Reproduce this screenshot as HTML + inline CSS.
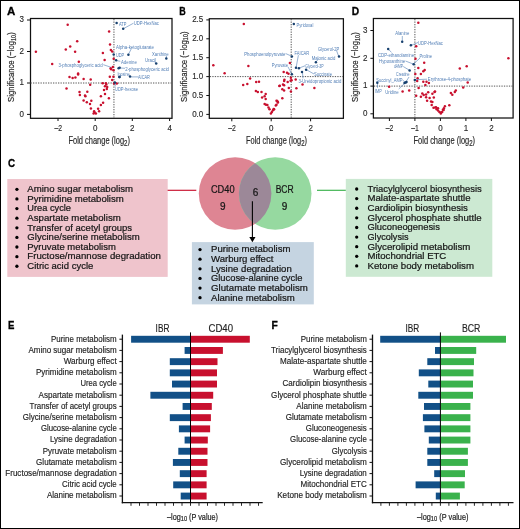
<!DOCTYPE html><html><head><meta charset="utf-8"><style>html,body{margin:0;padding:0;background:#fff;}svg{display:block;will-change:transform;}</style></head><body>
<svg width="520" height="529" viewBox="0 0 520 529" font-family="'Liberation Sans', sans-serif">
<rect x="0" y="0" width="520" height="529" fill="#fff"/>
<text x="7.10" y="15.20" font-size="11" font-weight="bold" fill="#000" textLength="8.30" lengthAdjust="spacingAndGlyphs" stroke="#000" stroke-width="0.3">A</text>
<text x="179.20" y="15.10" font-size="11" font-weight="bold" fill="#000" textLength="6.50" lengthAdjust="spacingAndGlyphs" stroke="#000" stroke-width="0.3">B</text>
<text x="351.80" y="15.10" font-size="11" font-weight="bold" fill="#000" textLength="7.40" lengthAdjust="spacingAndGlyphs" stroke="#000" stroke-width="0.3">D</text>
<text x="7.90" y="166.60" font-size="11" font-weight="bold" fill="#000" textLength="7.10" lengthAdjust="spacingAndGlyphs" stroke="#000" stroke-width="0.3">C</text>
<text x="7.90" y="328.80" font-size="11" font-weight="bold" fill="#000" textLength="6.40" lengthAdjust="spacingAndGlyphs" stroke="#000" stroke-width="0.3">E</text>
<text x="271.60" y="328.80" font-size="11" font-weight="bold" fill="#000" textLength="6.30" lengthAdjust="spacingAndGlyphs" stroke="#000" stroke-width="0.3">F</text>
<rect x="30.5" y="18.5" width="141.5" height="99.8" fill="none" stroke="#111" stroke-width="1.25"/>
<line x1="113.95" y1="19" x2="113.95" y2="117.5" stroke="#555" stroke-width="1" stroke-dasharray="1.3,1.2"/>
<line x1="30.5" y1="83" x2="171.5" y2="83" stroke="#555" stroke-width="1" stroke-dasharray="1.3,1.2"/>
<line x1="27" y1="20" x2="30" y2="20" stroke="#111" stroke-width="1"/>
<text x="19.55" y="22.30" font-size="8.8" fill="#2a2a2a" textLength="4.45" lengthAdjust="spacingAndGlyphs" stroke="#2a2a2a" stroke-width="0.15">3</text>
<line x1="27" y1="51.5" x2="30" y2="51.5" stroke="#111" stroke-width="1"/>
<text x="19.55" y="53.80" font-size="8.8" fill="#2a2a2a" textLength="4.45" lengthAdjust="spacingAndGlyphs" stroke="#2a2a2a" stroke-width="0.15">2</text>
<line x1="27" y1="83" x2="30" y2="83" stroke="#111" stroke-width="1"/>
<text x="19.55" y="85.30" font-size="8.8" fill="#2a2a2a" textLength="4.45" lengthAdjust="spacingAndGlyphs" stroke="#2a2a2a" stroke-width="0.15">1</text>
<line x1="27" y1="114.4" x2="30" y2="114.4" stroke="#111" stroke-width="1"/>
<text x="19.55" y="116.70" font-size="8.8" fill="#2a2a2a" textLength="4.45" lengthAdjust="spacingAndGlyphs" stroke="#2a2a2a" stroke-width="0.15">0</text>
<line x1="58" y1="118" x2="58" y2="121" stroke="#111" stroke-width="1"/>
<text x="54.40" y="130.50" font-size="8.8" fill="#2a2a2a" textLength="7.60" lengthAdjust="spacingAndGlyphs" stroke="#2a2a2a" stroke-width="0.15">–2</text>
<line x1="95.2" y1="118" x2="95.2" y2="121" stroke="#111" stroke-width="1"/>
<text x="92.98" y="130.50" font-size="8.8" fill="#2a2a2a" textLength="4.45" lengthAdjust="spacingAndGlyphs" stroke="#2a2a2a" stroke-width="0.15">0</text>
<line x1="132.3" y1="118" x2="132.3" y2="121" stroke="#111" stroke-width="1"/>
<text x="130.08" y="130.50" font-size="8.8" fill="#2a2a2a" textLength="4.45" lengthAdjust="spacingAndGlyphs" stroke="#2a2a2a" stroke-width="0.15">2</text>
<line x1="169.6" y1="118" x2="169.6" y2="121" stroke="#111" stroke-width="1"/>
<text x="167.38" y="130.50" font-size="8.8" fill="#2a2a2a" textLength="4.45" lengthAdjust="spacingAndGlyphs" stroke="#2a2a2a" stroke-width="0.15">4</text>
<g transform="translate(13.80,101.90) rotate(-90) scale(0.7787,1)"><text x="0" y="0" fill="#2a2a2a" stroke="#2a2a2a" stroke-width="0.2" xml:space="preserve"><tspan font-size="9.9" dy="0">Significance (−log</tspan><tspan font-size="7.0" dy="1.7">10</tspan><tspan font-size="9.9" dy="-1.7">)</tspan></text></g>
<g transform="translate(68.50,144.20) scale(0.7250,1)"><text x="0" y="0" fill="#2a2a2a" stroke="#2a2a2a" stroke-width="0.2" xml:space="preserve"><tspan font-size="10.3" dy="0">Fold change (log</tspan><tspan font-size="8.4" dy="1.8">2</tspan><tspan font-size="10.3" dy="-1.8">)</tspan></text></g>
<circle cx="67.7" cy="24.7" r="1.25" fill="#c8102e"/>
<circle cx="77.2" cy="41.3" r="1.25" fill="#c8102e"/>
<circle cx="70.2" cy="46.6" r="1.25" fill="#c8102e"/>
<circle cx="65.8" cy="49.6" r="1.25" fill="#c8102e"/>
<circle cx="75.1" cy="51.7" r="1.25" fill="#c8102e"/>
<circle cx="35.9" cy="51.7" r="1.25" fill="#c8102e"/>
<circle cx="78.8" cy="61.7" r="1.25" fill="#c8102e"/>
<circle cx="52.2" cy="63.9" r="1.25" fill="#c8102e"/>
<circle cx="69.5" cy="76.9" r="1.25" fill="#c8102e"/>
<circle cx="72.6" cy="78" r="1.25" fill="#c8102e"/>
<circle cx="75.4" cy="77.6" r="1.25" fill="#c8102e"/>
<circle cx="78.1" cy="73.4" r="1.25" fill="#c8102e"/>
<circle cx="78.1" cy="74.6" r="1.25" fill="#c8102e"/>
<circle cx="66.5" cy="88.4" r="1.25" fill="#c8102e"/>
<circle cx="79.5" cy="91.9" r="1.25" fill="#c8102e"/>
<circle cx="79.9" cy="95" r="1.25" fill="#c8102e"/>
<circle cx="83.6" cy="79.1" r="1.25" fill="#c8102e"/>
<circle cx="90.7" cy="79.5" r="1.25" fill="#c8102e"/>
<circle cx="90.2" cy="84.7" r="1.25" fill="#c8102e"/>
<circle cx="109.8" cy="76.8" r="1.25" fill="#c8102e"/>
<circle cx="113.4" cy="76.8" r="1.25" fill="#c8102e"/>
<circle cx="112.2" cy="80" r="1.25" fill="#c8102e"/>
<circle cx="102.7" cy="83.2" r="1.25" fill="#c8102e"/>
<circle cx="105.9" cy="83.2" r="1.25" fill="#c8102e"/>
<circle cx="106.3" cy="84.5" r="1.25" fill="#c8102e"/>
<circle cx="105" cy="86.3" r="1.25" fill="#c8102e"/>
<circle cx="107.2" cy="87.1" r="1.25" fill="#c8102e"/>
<circle cx="106.8" cy="89.1" r="1.25" fill="#c8102e"/>
<circle cx="104" cy="90.1" r="1.25" fill="#c8102e"/>
<circle cx="105" cy="94" r="1.25" fill="#c8102e"/>
<circle cx="108.9" cy="98.3" r="1.25" fill="#c8102e"/>
<circle cx="100.9" cy="96.3" r="1.25" fill="#c8102e"/>
<circle cx="103.1" cy="102.7" r="1.25" fill="#c8102e"/>
<circle cx="100.9" cy="104.9" r="1.25" fill="#c8102e"/>
<circle cx="98.1" cy="108.8" r="1.25" fill="#c8102e"/>
<circle cx="99.1" cy="111.3" r="1.25" fill="#c8102e"/>
<circle cx="94.1" cy="111.3" r="1.25" fill="#c8102e"/>
<circle cx="94.5" cy="112.6" r="1.25" fill="#c8102e"/>
<circle cx="95.9" cy="113.4" r="1.25" fill="#c8102e"/>
<circle cx="93.6" cy="113.4" r="1.25" fill="#c8102e"/>
<circle cx="90.9" cy="108.6" r="1.25" fill="#c8102e"/>
<circle cx="90" cy="104" r="1.25" fill="#c8102e"/>
<circle cx="91.3" cy="100.7" r="1.25" fill="#c8102e"/>
<circle cx="86.8" cy="102.2" r="1.25" fill="#c8102e"/>
<circle cx="83.6" cy="100.4" r="1.25" fill="#c8102e"/>
<circle cx="85.4" cy="96.3" r="1.25" fill="#c8102e"/>
<circle cx="85" cy="95.4" r="1.25" fill="#c8102e"/>
<circle cx="87.3" cy="91.8" r="1.25" fill="#c8102e"/>
<circle cx="114" cy="83.6" r="1.25" fill="#c8102e"/>
<circle cx="116.8" cy="83.4" r="1.25" fill="#c8102e"/>
<circle cx="109.1" cy="31.5" r="1.25" fill="#c8102e"/>
<circle cx="110" cy="44.4" r="1.25" fill="#c8102e"/>
<circle cx="110.9" cy="50" r="1.25" fill="#c8102e"/>
<circle cx="112.2" cy="51.5" r="1.25" fill="#c8102e"/>
<circle cx="102.9" cy="52.9" r="1.25" fill="#c8102e"/>
<circle cx="104.6" cy="60.1" r="1.25" fill="#c8102e"/>
<circle cx="113.7" cy="58.8" r="1.25" fill="#c8102e"/>
<circle cx="112.9" cy="67" r="1.25" fill="#c8102e"/>
<circle cx="110.7" cy="68.2" r="1.25" fill="#c8102e"/>
<circle cx="111.2" cy="69.2" r="1.25" fill="#c8102e"/>
<circle cx="113.5" cy="70.3" r="1.25" fill="#c8102e"/>
<path d="M123.2,28.8 L133.5,23.2" fill="none" stroke="#507db5" stroke-width="0.6"/>
<path d="M128.2,54.8 L131.2,49" fill="none" stroke="#507db5" stroke-width="0.6"/>
<path d="M103.3,64.7 L110.8,67.2" fill="none" stroke="#507db5" stroke-width="0.6"/>
<path d="M119,67.9 L125,68.3" fill="none" stroke="#507db5" stroke-width="0.6"/>
<path d="M130.3,76.9 L138,76.9" fill="none" stroke="#507db5" stroke-width="0.6"/>
<path d="M116,60.5 L120.3,61.3" fill="none" stroke="#507db5" stroke-width="0.6"/>
<path d="M115.4,82.8 L115.2,86.5" fill="none" stroke="#507db5" stroke-width="0.6"/>
<path d="M119.3,76.9 L121,74.8" fill="none" stroke="#507db5" stroke-width="0.6"/>
<path d="M166.2,58.4 L166.5,56" fill="none" stroke="#507db5" stroke-width="0.6"/>
<path d="M155.9,63.4 L154.6,61.6" fill="none" stroke="#507db5" stroke-width="0.6"/>
<text transform="translate(119.00,25.70) scale(0.25)" x="0" y="0" font-size="19.20" fill="#507db5" textLength="30.00" lengthAdjust="spacingAndGlyphs">ATP</text>
<text transform="translate(133.80,25.10) scale(0.25)" x="0" y="0" font-size="19.20" fill="#507db5" textLength="100.00" lengthAdjust="spacingAndGlyphs">UDP-HexNac</text>
<text transform="translate(116.00,48.80) scale(0.25)" x="0" y="0" font-size="19.20" fill="#507db5" textLength="152.00" lengthAdjust="spacingAndGlyphs">Alpha-ketoglutarate</text>
<text transform="translate(116.00,57.00) scale(0.25)" x="0" y="0" font-size="19.20" fill="#507db5" textLength="32.80" lengthAdjust="spacingAndGlyphs">UDP</text>
<text transform="translate(152.00,55.70) scale(0.25)" x="0" y="0" font-size="19.20" fill="#507db5" textLength="66.40" lengthAdjust="spacingAndGlyphs">Xanthine</text>
<text transform="translate(144.90,61.50) scale(0.25)" x="0" y="0" font-size="19.20" fill="#507db5" textLength="44.40" lengthAdjust="spacingAndGlyphs">Uracil</text>
<text transform="translate(121.00,63.70) scale(0.25)" x="0" y="0" font-size="19.20" fill="#507db5" textLength="63.20" lengthAdjust="spacingAndGlyphs">Adenine</text>
<text transform="translate(58.50,67.00) scale(0.25)" x="0" y="0" font-size="19.20" fill="#507db5" textLength="176.80" lengthAdjust="spacingAndGlyphs">3-phosphoglyceric acid</text>
<text transform="translate(125.30,70.60) scale(0.25)" x="0" y="0" font-size="19.20" fill="#507db5" textLength="174.80" lengthAdjust="spacingAndGlyphs">2-phosphoglyceric acid</text>
<text transform="translate(117.40,75.60) scale(0.25)" x="0" y="0" font-size="19.20" fill="#507db5" textLength="49.20" lengthAdjust="spacingAndGlyphs">Inosine</text>
<text transform="translate(138.00,79.00) scale(0.25)" x="0" y="0" font-size="19.20" fill="#507db5" textLength="47.60" lengthAdjust="spacingAndGlyphs">AICAR</text>
<text transform="translate(115.00,90.70) scale(0.25)" x="0" y="0" font-size="19.20" fill="#507db5" textLength="92.00" lengthAdjust="spacingAndGlyphs">UDP-hexose</text>
<circle cx="116.6" cy="23.1" r="1.25" fill="#17406e"/>
<circle cx="123.2" cy="28.8" r="1.25" fill="#17406e"/>
<circle cx="128.4" cy="54.7" r="1.25" fill="#17406e"/>
<circle cx="113.7" cy="54.4" r="1.25" fill="#17406e"/>
<circle cx="166.3" cy="58.6" r="1.25" fill="#17406e"/>
<circle cx="156.2" cy="63.5" r="1.25" fill="#17406e"/>
<circle cx="116.1" cy="60.3" r="1.25" fill="#17406e"/>
<circle cx="118.6" cy="68.2" r="1.25" fill="#17406e"/>
<circle cx="119.6" cy="67.7" r="1.25" fill="#17406e"/>
<circle cx="119.4" cy="77" r="1.25" fill="#17406e"/>
<circle cx="130" cy="76.6" r="1.25" fill="#17406e"/>
<circle cx="114.9" cy="82.5" r="1.25" fill="#17406e"/>
<circle cx="119.5" cy="77.1" r="1.25" fill="#17406e"/>
<rect x="209.3" y="18.75" width="134.09999999999997" height="99.55" fill="none" stroke="#111" stroke-width="1.25"/>
<line x1="291.2" y1="19" x2="291.2" y2="118" stroke="#555" stroke-width="1" stroke-dasharray="1.3,1.2"/>
<line x1="209.8" y1="76.6" x2="343" y2="76.6" stroke="#555" stroke-width="1" stroke-dasharray="1.3,1.2"/>
<line x1="206.3" y1="19.9" x2="209.3" y2="19.9" stroke="#111" stroke-width="1"/>
<text x="192.18" y="22.20" font-size="8.8" fill="#2a2a2a" textLength="11.12" lengthAdjust="spacingAndGlyphs" stroke="#2a2a2a" stroke-width="0.15">2.5</text>
<line x1="206.3" y1="38.8" x2="209.3" y2="38.8" stroke="#111" stroke-width="1"/>
<text x="192.18" y="41.10" font-size="8.8" fill="#2a2a2a" textLength="11.12" lengthAdjust="spacingAndGlyphs" stroke="#2a2a2a" stroke-width="0.15">2.0</text>
<line x1="206.3" y1="57.7" x2="209.3" y2="57.7" stroke="#111" stroke-width="1"/>
<text x="192.18" y="60.00" font-size="8.8" fill="#2a2a2a" textLength="11.12" lengthAdjust="spacingAndGlyphs" stroke="#2a2a2a" stroke-width="0.15">1.5</text>
<line x1="206.3" y1="76.6" x2="209.3" y2="76.6" stroke="#111" stroke-width="1"/>
<text x="192.18" y="78.90" font-size="8.8" fill="#2a2a2a" textLength="11.12" lengthAdjust="spacingAndGlyphs" stroke="#2a2a2a" stroke-width="0.15">1.0</text>
<line x1="206.3" y1="95.5" x2="209.3" y2="95.5" stroke="#111" stroke-width="1"/>
<text x="192.18" y="97.80" font-size="8.8" fill="#2a2a2a" textLength="11.12" lengthAdjust="spacingAndGlyphs" stroke="#2a2a2a" stroke-width="0.15">0.5</text>
<line x1="206.3" y1="114.4" x2="209.3" y2="114.4" stroke="#111" stroke-width="1"/>
<text x="192.18" y="116.70" font-size="8.8" fill="#2a2a2a" textLength="11.12" lengthAdjust="spacingAndGlyphs" stroke="#2a2a2a" stroke-width="0.15">0.0</text>
<line x1="231.8" y1="118.3" x2="231.8" y2="121.3" stroke="#111" stroke-width="1"/>
<text x="228.20" y="130.50" font-size="8.8" fill="#2a2a2a" textLength="7.60" lengthAdjust="spacingAndGlyphs" stroke="#2a2a2a" stroke-width="0.15">–2</text>
<line x1="271.2" y1="118.3" x2="271.2" y2="121.3" stroke="#111" stroke-width="1"/>
<text x="268.98" y="130.50" font-size="8.8" fill="#2a2a2a" textLength="4.45" lengthAdjust="spacingAndGlyphs" stroke="#2a2a2a" stroke-width="0.15">0</text>
<line x1="310.6" y1="118.3" x2="310.6" y2="121.3" stroke="#111" stroke-width="1"/>
<text x="308.38" y="130.50" font-size="8.8" fill="#2a2a2a" textLength="4.45" lengthAdjust="spacingAndGlyphs" stroke="#2a2a2a" stroke-width="0.15">2</text>
<g transform="translate(186.60,101.90) rotate(-90) scale(0.7876,1)"><text x="0" y="0" fill="#2a2a2a" stroke="#2a2a2a" stroke-width="0.2" xml:space="preserve"><tspan font-size="9.9" dy="0">Significance (−log</tspan><tspan font-size="7.0" dy="1.7">10</tspan><tspan font-size="9.9" dy="-1.7">)</tspan></text></g>
<g transform="translate(246.00,144.20) scale(0.7191,1)"><text x="0" y="0" fill="#2a2a2a" stroke="#2a2a2a" stroke-width="0.2" xml:space="preserve"><tspan font-size="10.3" dy="0">Fold change (log</tspan><tspan font-size="8.4" dy="1.8">2</tspan><tspan font-size="10.3" dy="-1.8">)</tspan></text></g>
<circle cx="243.8" cy="24.1" r="1.25" fill="#c8102e"/>
<circle cx="213.3" cy="65.2" r="1.25" fill="#c8102e"/>
<circle cx="248.4" cy="65.9" r="1.25" fill="#c8102e"/>
<circle cx="224.6" cy="73.3" r="1.25" fill="#c8102e"/>
<circle cx="250.1" cy="78.5" r="1.25" fill="#c8102e"/>
<circle cx="243.2" cy="84.9" r="1.25" fill="#c8102e"/>
<circle cx="247.3" cy="83.9" r="1.25" fill="#c8102e"/>
<circle cx="256.2" cy="82" r="1.25" fill="#c8102e"/>
<circle cx="259" cy="81.8" r="1.25" fill="#c8102e"/>
<circle cx="255.9" cy="90.9" r="1.25" fill="#c8102e"/>
<circle cx="257.8" cy="91.9" r="1.25" fill="#c8102e"/>
<circle cx="261.5" cy="92" r="1.25" fill="#c8102e"/>
<circle cx="265.7" cy="94" r="1.25" fill="#c8102e"/>
<circle cx="264.6" cy="96.2" r="1.25" fill="#c8102e"/>
<circle cx="262.1" cy="97.6" r="1.25" fill="#c8102e"/>
<circle cx="265.7" cy="99" r="1.25" fill="#c8102e"/>
<circle cx="264.6" cy="104" r="1.25" fill="#c8102e"/>
<circle cx="266" cy="104.7" r="1.25" fill="#c8102e"/>
<circle cx="267.4" cy="105" r="1.25" fill="#c8102e"/>
<circle cx="268.5" cy="107.5" r="1.25" fill="#c8102e"/>
<circle cx="269.5" cy="109.2" r="1.25" fill="#c8102e"/>
<circle cx="270.9" cy="113.4" r="1.25" fill="#c8102e"/>
<circle cx="271.9" cy="112" r="1.25" fill="#c8102e"/>
<circle cx="273" cy="110.3" r="1.25" fill="#c8102e"/>
<circle cx="274.1" cy="109.2" r="1.25" fill="#c8102e"/>
<circle cx="276.5" cy="100.7" r="1.25" fill="#c8102e"/>
<circle cx="277.9" cy="102.1" r="1.25" fill="#c8102e"/>
<circle cx="275.8" cy="105.6" r="1.25" fill="#c8102e"/>
<circle cx="279.3" cy="86" r="1.25" fill="#c8102e"/>
<circle cx="289.9" cy="62.9" r="1.25" fill="#c8102e"/>
<circle cx="283.7" cy="72" r="1.25" fill="#c8102e"/>
<circle cx="287" cy="72.7" r="1.25" fill="#c8102e"/>
<circle cx="288.5" cy="73.8" r="1.25" fill="#c8102e"/>
<circle cx="290.9" cy="77.8" r="1.25" fill="#c8102e"/>
<circle cx="291.6" cy="80.3" r="1.25" fill="#c8102e"/>
<circle cx="290.6" cy="80.7" r="1.25" fill="#c8102e"/>
<circle cx="295.7" cy="79.5" r="1.25" fill="#c8102e"/>
<circle cx="284.4" cy="79.8" r="1.25" fill="#c8102e"/>
<circle cx="284.1" cy="81" r="1.25" fill="#c8102e"/>
<circle cx="287.7" cy="82.1" r="1.25" fill="#c8102e"/>
<circle cx="279.8" cy="85.7" r="1.25" fill="#c8102e"/>
<circle cx="283" cy="84.6" r="1.25" fill="#c8102e"/>
<circle cx="284.1" cy="85.3" r="1.25" fill="#c8102e"/>
<circle cx="282.3" cy="89.3" r="1.25" fill="#c8102e"/>
<circle cx="284.1" cy="90.4" r="1.25" fill="#c8102e"/>
<circle cx="288.8" cy="87.9" r="1.25" fill="#c8102e"/>
<circle cx="290.9" cy="91.4" r="1.25" fill="#c8102e"/>
<circle cx="296.4" cy="88.2" r="1.25" fill="#c8102e"/>
<circle cx="302.5" cy="84.6" r="1.25" fill="#c8102e"/>
<circle cx="314.4" cy="87.9" r="1.25" fill="#c8102e"/>
<circle cx="282.3" cy="98.3" r="1.25" fill="#c8102e"/>
<circle cx="277.2" cy="100.9" r="1.25" fill="#c8102e"/>
<circle cx="277.9" cy="102.6" r="1.25" fill="#c8102e"/>
<circle cx="276.5" cy="104.8" r="1.25" fill="#c8102e"/>
<circle cx="273.6" cy="109.1" r="1.25" fill="#c8102e"/>
<path d="M285.6,53.5 L291.2,56" fill="none" stroke="#507db5" stroke-width="0.6"/>
<path d="M298.4,55.2 L296.1,67.5" fill="none" stroke="#507db5" stroke-width="0.6"/>
<path d="M336.5,50.5 L338.6,56.1" fill="none" stroke="#507db5" stroke-width="0.6"/>
<path d="M315.6,62 L318.5,59.3" fill="none" stroke="#507db5" stroke-width="0.6"/>
<path d="M298.8,68.2 L305,65.8" fill="none" stroke="#507db5" stroke-width="0.6"/>
<path d="M306.2,69.6 L314,74" fill="none" stroke="#507db5" stroke-width="0.6"/>
<path d="M302.4,71.9 L303,78.3" fill="none" stroke="#507db5" stroke-width="0.6"/>
<path d="M288,66.8 L291.7,74" fill="none" stroke="#507db5" stroke-width="0.6"/>
<text transform="translate(296.50,26.60) scale(0.25)" x="0" y="0" font-size="19.20" fill="#507db5" textLength="67.20" lengthAdjust="spacingAndGlyphs">Pyridoxal</text>
<text transform="translate(244.20,55.50) scale(0.25)" x="0" y="0" font-size="19.20" fill="#507db5" textLength="165.20" lengthAdjust="spacingAndGlyphs">Phosphoenolpyruvate</text>
<text transform="translate(294.60,55.10) scale(0.25)" x="0" y="0" font-size="19.20" fill="#507db5" textLength="58.40" lengthAdjust="spacingAndGlyphs">FAICAR</text>
<text transform="translate(317.90,50.90) scale(0.25)" x="0" y="0" font-size="19.20" fill="#507db5" textLength="85.20" lengthAdjust="spacingAndGlyphs">Glycerol-2P</text>
<text transform="translate(311.70,59.70) scale(0.25)" x="0" y="0" font-size="19.20" fill="#507db5" textLength="94.80" lengthAdjust="spacingAndGlyphs">Malonic acid</text>
<text transform="translate(305.30,67.90) scale(0.25)" x="0" y="0" font-size="19.20" fill="#507db5" textLength="73.20" lengthAdjust="spacingAndGlyphs">Glycerol-3P</text>
<text transform="translate(313.90,76.30) scale(0.25)" x="0" y="0" font-size="19.20" fill="#507db5" textLength="72.40" lengthAdjust="spacingAndGlyphs">Succinate</text>
<text transform="translate(298.40,83.40) scale(0.25)" x="0" y="0" font-size="19.20" fill="#507db5" textLength="171.60" lengthAdjust="spacingAndGlyphs">3-Ureidopropionic acid</text>
<text transform="translate(271.70,67.10) scale(0.25)" x="0" y="0" font-size="19.20" fill="#507db5" textLength="65.20" lengthAdjust="spacingAndGlyphs">Pyruvate</text>
<circle cx="293.8" cy="24.1" r="1.25" fill="#17406e"/>
<circle cx="291.9" cy="56.6" r="1.25" fill="#17406e"/>
<circle cx="296" cy="67.7" r="1.25" fill="#17406e"/>
<circle cx="298.9" cy="68.3" r="1.25" fill="#17406e"/>
<circle cx="339" cy="56.4" r="1.25" fill="#17406e"/>
<circle cx="315.9" cy="62.2" r="1.25" fill="#17406e"/>
<circle cx="306.1" cy="69.7" r="1.25" fill="#17406e"/>
<circle cx="302" cy="72" r="1.25" fill="#17406e"/>
<circle cx="291.9" cy="74.2" r="1.25" fill="#17406e"/>
<rect x="373.4" y="18.5" width="139.70000000000005" height="99.5" fill="none" stroke="#111" stroke-width="1.25"/>
<line x1="414.9" y1="19" x2="414.9" y2="117.5" stroke="#555" stroke-width="1" stroke-dasharray="1.3,1.2"/>
<line x1="373.9" y1="86.1" x2="512.6" y2="86.1" stroke="#555" stroke-width="1" stroke-dasharray="1.3,1.2"/>
<line x1="370.4" y1="30.5" x2="373.4" y2="30.5" stroke="#111" stroke-width="1"/>
<text x="362.95" y="32.80" font-size="8.8" fill="#2a2a2a" textLength="4.45" lengthAdjust="spacingAndGlyphs" stroke="#2a2a2a" stroke-width="0.15">3</text>
<line x1="370.4" y1="58.3" x2="373.4" y2="58.3" stroke="#111" stroke-width="1"/>
<text x="362.95" y="60.60" font-size="8.8" fill="#2a2a2a" textLength="4.45" lengthAdjust="spacingAndGlyphs" stroke="#2a2a2a" stroke-width="0.15">2</text>
<line x1="370.4" y1="86.1" x2="373.4" y2="86.1" stroke="#111" stroke-width="1"/>
<text x="362.95" y="88.40" font-size="8.8" fill="#2a2a2a" textLength="4.45" lengthAdjust="spacingAndGlyphs" stroke="#2a2a2a" stroke-width="0.15">1</text>
<line x1="370.4" y1="113.8" x2="373.4" y2="113.8" stroke="#111" stroke-width="1"/>
<text x="362.95" y="116.10" font-size="8.8" fill="#2a2a2a" textLength="4.45" lengthAdjust="spacingAndGlyphs" stroke="#2a2a2a" stroke-width="0.15">0</text>
<line x1="389.4" y1="118" x2="389.4" y2="121" stroke="#111" stroke-width="1"/>
<text x="385.80" y="130.50" font-size="8.8" fill="#2a2a2a" textLength="7.60" lengthAdjust="spacingAndGlyphs" stroke="#2a2a2a" stroke-width="0.15">–2</text>
<line x1="414.9" y1="118" x2="414.9" y2="121" stroke="#111" stroke-width="1"/>
<text x="411.30" y="130.50" font-size="8.8" fill="#2a2a2a" textLength="7.60" lengthAdjust="spacingAndGlyphs" stroke="#2a2a2a" stroke-width="0.15">–1</text>
<line x1="440.4" y1="118" x2="440.4" y2="121" stroke="#111" stroke-width="1"/>
<text x="438.18" y="130.50" font-size="8.8" fill="#2a2a2a" textLength="4.45" lengthAdjust="spacingAndGlyphs" stroke="#2a2a2a" stroke-width="0.15">0</text>
<line x1="465.9" y1="118" x2="465.9" y2="121" stroke="#111" stroke-width="1"/>
<text x="463.68" y="130.50" font-size="8.8" fill="#2a2a2a" textLength="4.45" lengthAdjust="spacingAndGlyphs" stroke="#2a2a2a" stroke-width="0.15">1</text>
<line x1="491.4" y1="118" x2="491.4" y2="121" stroke="#111" stroke-width="1"/>
<text x="489.18" y="130.50" font-size="8.8" fill="#2a2a2a" textLength="4.45" lengthAdjust="spacingAndGlyphs" stroke="#2a2a2a" stroke-width="0.15">2</text>
<g transform="translate(358.00,101.90) rotate(-90) scale(0.7787,1)"><text x="0" y="0" fill="#2a2a2a" stroke="#2a2a2a" stroke-width="0.2" xml:space="preserve"><tspan font-size="9.9" dy="0">Significance (−log</tspan><tspan font-size="7.0" dy="1.7">10</tspan><tspan font-size="9.9" dy="-1.7">)</tspan></text></g>
<g transform="translate(413.50,144.20) scale(0.7261,1)"><text x="0" y="0" fill="#2a2a2a" stroke="#2a2a2a" stroke-width="0.2" xml:space="preserve"><tspan font-size="10.3" dy="0">Fold change (log</tspan><tspan font-size="8.4" dy="1.8">2</tspan><tspan font-size="10.3" dy="-1.8">)</tspan></text></g>
<circle cx="418.3" cy="22.7" r="1.25" fill="#c8102e"/>
<circle cx="416.2" cy="46.2" r="1.25" fill="#c8102e"/>
<circle cx="415.5" cy="58.8" r="1.25" fill="#c8102e"/>
<circle cx="424.2" cy="62.8" r="1.25" fill="#c8102e"/>
<circle cx="418.3" cy="68.1" r="1.25" fill="#c8102e"/>
<circle cx="389.1" cy="86.7" r="1.25" fill="#c8102e"/>
<circle cx="402.6" cy="91.6" r="1.25" fill="#c8102e"/>
<circle cx="409.2" cy="90.6" r="1.25" fill="#c8102e"/>
<circle cx="424.7" cy="70.1" r="1.25" fill="#c8102e"/>
<circle cx="423.3" cy="71.2" r="1.25" fill="#c8102e"/>
<circle cx="415.3" cy="74" r="1.25" fill="#c8102e"/>
<circle cx="420.9" cy="74" r="1.25" fill="#c8102e"/>
<circle cx="417.6" cy="78.3" r="1.25" fill="#c8102e"/>
<circle cx="417.2" cy="81.1" r="1.25" fill="#c8102e"/>
<circle cx="423.3" cy="81.8" r="1.25" fill="#c8102e"/>
<circle cx="426.5" cy="81.8" r="1.25" fill="#c8102e"/>
<circle cx="428.9" cy="82.9" r="1.25" fill="#c8102e"/>
<circle cx="425.4" cy="85" r="1.25" fill="#c8102e"/>
<circle cx="418.6" cy="88.1" r="1.25" fill="#c8102e"/>
<circle cx="416.2" cy="95.8" r="1.25" fill="#c8102e"/>
<circle cx="420.9" cy="96.8" r="1.25" fill="#c8102e"/>
<circle cx="422.3" cy="93.4" r="1.25" fill="#c8102e"/>
<circle cx="423.7" cy="95.1" r="1.25" fill="#c8102e"/>
<circle cx="426.1" cy="94.4" r="1.25" fill="#c8102e"/>
<circle cx="428.2" cy="92.3" r="1.25" fill="#c8102e"/>
<circle cx="426.1" cy="97.2" r="1.25" fill="#c8102e"/>
<circle cx="427.1" cy="100.7" r="1.25" fill="#c8102e"/>
<circle cx="429.6" cy="97.9" r="1.25" fill="#c8102e"/>
<circle cx="432.4" cy="93.7" r="1.25" fill="#c8102e"/>
<circle cx="434.5" cy="92" r="1.25" fill="#c8102e"/>
<circle cx="431" cy="101.4" r="1.25" fill="#c8102e"/>
<circle cx="432.4" cy="102.1" r="1.25" fill="#c8102e"/>
<circle cx="433.8" cy="97.6" r="1.25" fill="#c8102e"/>
<circle cx="431.7" cy="104.9" r="1.25" fill="#c8102e"/>
<circle cx="433.5" cy="107.8" r="1.25" fill="#c8102e"/>
<circle cx="435.2" cy="107.5" r="1.25" fill="#c8102e"/>
<circle cx="436.6" cy="109.2" r="1.25" fill="#c8102e"/>
<circle cx="438" cy="110.6" r="1.25" fill="#c8102e"/>
<circle cx="439.4" cy="112" r="1.25" fill="#c8102e"/>
<circle cx="440.8" cy="113.4" r="1.25" fill="#c8102e"/>
<circle cx="442.2" cy="112" r="1.25" fill="#c8102e"/>
<circle cx="443.6" cy="109.9" r="1.25" fill="#c8102e"/>
<circle cx="508.4" cy="58.3" r="1.25" fill="#c8102e"/>
<circle cx="459.8" cy="68.6" r="1.25" fill="#c8102e"/>
<circle cx="466.7" cy="66.2" r="1.25" fill="#c8102e"/>
<circle cx="467.7" cy="82.5" r="1.25" fill="#c8102e"/>
<circle cx="463.2" cy="87.4" r="1.25" fill="#c8102e"/>
<circle cx="455.8" cy="90.4" r="1.25" fill="#c8102e"/>
<circle cx="454.8" cy="92" r="1.25" fill="#c8102e"/>
<circle cx="450.9" cy="93" r="1.25" fill="#c8102e"/>
<circle cx="452.3" cy="94.8" r="1.25" fill="#c8102e"/>
<circle cx="449.3" cy="105.3" r="1.25" fill="#c8102e"/>
<circle cx="444.9" cy="106.3" r="1.25" fill="#c8102e"/>
<circle cx="443.9" cy="108.3" r="1.25" fill="#c8102e"/>
<circle cx="442.9" cy="109.8" r="1.25" fill="#c8102e"/>
<circle cx="441" cy="112.6" r="1.25" fill="#c8102e"/>
<circle cx="438" cy="108.3" r="1.25" fill="#c8102e"/>
<circle cx="436" cy="107.3" r="1.25" fill="#c8102e"/>
<circle cx="435" cy="91.4" r="1.25" fill="#c8102e"/>
<path d="M402.3,36 L402.3,41.9" fill="none" stroke="#507db5" stroke-width="0.6"/>
<path d="M410.6,45.5 L418,42.5" fill="none" stroke="#507db5" stroke-width="0.6"/>
<path d="M388.1,49.1 L391.5,52.3" fill="none" stroke="#507db5" stroke-width="0.6"/>
<path d="M413.4,64.1 L420,58" fill="none" stroke="#507db5" stroke-width="0.6"/>
<path d="M405.5,61 L413.4,64.1" fill="none" stroke="#507db5" stroke-width="0.6"/>
<path d="M403.2,66.5 L410.2,70.7" fill="none" stroke="#507db5" stroke-width="0.6"/>
<path d="M409,77 L405.7,82.2" fill="none" stroke="#507db5" stroke-width="0.6"/>
<path d="M402.5,80 L405,82" fill="none" stroke="#507db5" stroke-width="0.6"/>
<path d="M414.8,79.7 L427,79.2" fill="none" stroke="#507db5" stroke-width="0.6"/>
<path d="M377.5,82.8 L377.5,87.8" fill="none" stroke="#507db5" stroke-width="0.6"/>
<path d="M398.7,89 L405,83" fill="none" stroke="#507db5" stroke-width="0.6"/>
<text transform="translate(395.30,35.00) scale(0.25)" x="0" y="0" font-size="19.20" fill="#507db5" textLength="56.00" lengthAdjust="spacingAndGlyphs">Alanine</text>
<text transform="translate(418.10,44.50) scale(0.25)" x="0" y="0" font-size="19.20" fill="#507db5" textLength="99.20" lengthAdjust="spacingAndGlyphs">UDP-HexNac</text>
<text transform="translate(378.00,56.80) scale(0.25)" x="0" y="0" font-size="19.20" fill="#507db5" textLength="144.40" lengthAdjust="spacingAndGlyphs">CDP-ethanolamine</text>
<text transform="translate(419.50,57.90) scale(0.25)" x="0" y="0" font-size="19.20" fill="#507db5" textLength="50.40" lengthAdjust="spacingAndGlyphs">Proline</text>
<text transform="translate(379.10,63.00) scale(0.25)" x="0" y="0" font-size="19.20" fill="#507db5" textLength="104.40" lengthAdjust="spacingAndGlyphs">Hypoxanthine</text>
<text transform="translate(394.00,67.90) scale(0.25)" x="0" y="0" font-size="19.20" fill="#507db5" textLength="36.00" lengthAdjust="spacingAndGlyphs">dAMP</text>
<text transform="translate(396.10,76.20) scale(0.25)" x="0" y="0" font-size="19.20" fill="#507db5" textLength="54.00" lengthAdjust="spacingAndGlyphs">Creatine</text>
<text transform="translate(376.30,82.00) scale(0.25)" x="0" y="0" font-size="19.20" fill="#507db5" textLength="104.80" lengthAdjust="spacingAndGlyphs">Succinyl_AMP</text>
<text transform="translate(427.80,80.60) scale(0.25)" x="0" y="0" font-size="19.20" fill="#507db5" textLength="173.20" lengthAdjust="spacingAndGlyphs">Erythrose-4-phosphate</text>
<text transform="translate(375.00,92.80) scale(0.25)" x="0" y="0" font-size="19.20" fill="#507db5" textLength="26.80" lengthAdjust="spacingAndGlyphs">IMP</text>
<text transform="translate(385.20,93.50) scale(0.25)" x="0" y="0" font-size="19.20" fill="#507db5" textLength="53.60" lengthAdjust="spacingAndGlyphs">Uridine</text>
<circle cx="402.2" cy="41.7" r="1.25" fill="#17406e"/>
<circle cx="410.9" cy="45.2" r="1.25" fill="#17406e"/>
<circle cx="388.2" cy="49" r="1.25" fill="#17406e"/>
<circle cx="413.7" cy="64.2" r="1.25" fill="#17406e"/>
<circle cx="409.6" cy="70.5" r="1.25" fill="#17406e"/>
<circle cx="405.7" cy="82.5" r="1.25" fill="#17406e"/>
<circle cx="404.5" cy="83" r="1.25" fill="#17406e"/>
<circle cx="406.5" cy="82" r="1.25" fill="#17406e"/>
<circle cx="414.8" cy="80.1" r="1.25" fill="#17406e"/>
<circle cx="377.3" cy="82.8" r="1.25" fill="#17406e"/>
<rect x="7.3" y="179" width="160.4" height="97.9" fill="#efc4cc"/>
<rect x="345.8" y="178.9" width="146.5" height="97.9" fill="#cce9d2"/>
<rect x="191.9" y="242.1" width="121.9" height="62.3" fill="#c5d4e1"/>
<line x1="167.6" y1="190.3" x2="196.3" y2="190.3" stroke="#c8102e" stroke-width="1.15"/>
<line x1="317" y1="190.3" x2="345.8" y2="190.3" stroke="#3ab24c" stroke-width="1.15"/>
<defs><clipPath id="cl"><circle cx="235.1" cy="193.5" r="36.3"/></clipPath></defs>
<circle cx="235.1" cy="193.5" r="36.3" fill="#de8593"/>
<circle cx="275.2" cy="193.5" r="36.3" fill="#96d9a0"/>
<circle cx="275.2" cy="193.5" r="36.3" fill="#9c8898" clip-path="url(#cl)"/>
<text x="210.90" y="192.50" font-size="10" fill="#161616" textLength="23.70" lengthAdjust="spacingAndGlyphs" stroke="#161616" stroke-width="0.22">CD40</text>
<text x="275.70" y="192.60" font-size="10" fill="#161616" textLength="18.00" lengthAdjust="spacingAndGlyphs" stroke="#161616" stroke-width="0.22">BCR</text>
<text x="220.12" y="209.90" font-size="10" fill="#161616" textLength="5.56" lengthAdjust="spacingAndGlyphs" stroke="#161616" stroke-width="0.22">9</text>
<text x="281.72" y="209.90" font-size="10" fill="#161616" textLength="5.56" lengthAdjust="spacingAndGlyphs" stroke="#161616" stroke-width="0.22">9</text>
<text x="252.72" y="195.90" font-size="10" fill="#161616" textLength="5.56" lengthAdjust="spacingAndGlyphs" stroke="#161616" stroke-width="0.22">6</text>
<line x1="252.4" y1="201.2" x2="252.4" y2="238" stroke="#000" stroke-width="1.1"/>
<path d="M249.3,237 L255.5,237 L252.4,242.3 Z" fill="#000"/>
<circle cx="16.9" cy="189.30" r="1.65" fill="#000"/>
<text x="27.30" y="192.10" font-size="9.8" fill="#161616" textLength="105.80" lengthAdjust="spacingAndGlyphs" stroke="#161616" stroke-width="0.22">Amino sugar metabolism</text>
<circle cx="16.9" cy="198.92" r="1.65" fill="#000"/>
<text x="27.30" y="201.72" font-size="9.8" fill="#161616" textLength="96.50" lengthAdjust="spacingAndGlyphs" stroke="#161616" stroke-width="0.22">Pyrimidine metabolism</text>
<circle cx="16.9" cy="208.54" r="1.65" fill="#000"/>
<text x="27.30" y="211.34" font-size="9.8" fill="#161616" textLength="43.70" lengthAdjust="spacingAndGlyphs" stroke="#161616" stroke-width="0.22">Urea cycle</text>
<circle cx="16.9" cy="218.16" r="1.65" fill="#000"/>
<text x="27.30" y="220.96" font-size="9.8" fill="#161616" textLength="93.50" lengthAdjust="spacingAndGlyphs" stroke="#161616" stroke-width="0.22">Aspartate metabolism</text>
<circle cx="16.9" cy="227.78" r="1.65" fill="#000"/>
<text x="27.30" y="230.58" font-size="9.8" fill="#161616" textLength="104.80" lengthAdjust="spacingAndGlyphs" stroke="#161616" stroke-width="0.22">Transfer of acetyl groups</text>
<circle cx="16.9" cy="237.40" r="1.65" fill="#000"/>
<text x="27.30" y="240.20" font-size="9.8" fill="#161616" textLength="112.40" lengthAdjust="spacingAndGlyphs" stroke="#161616" stroke-width="0.22">Glycine/serine metabolism</text>
<circle cx="16.9" cy="247.02" r="1.65" fill="#000"/>
<text x="27.30" y="249.82" font-size="9.8" fill="#161616" textLength="88.50" lengthAdjust="spacingAndGlyphs" stroke="#161616" stroke-width="0.22">Pyruvate metabolism</text>
<circle cx="16.9" cy="256.64" r="1.65" fill="#000"/>
<text x="27.30" y="259.44" font-size="9.8" fill="#161616" textLength="133.60" lengthAdjust="spacingAndGlyphs" stroke="#161616" stroke-width="0.22">Fructose/mannose degradation</text>
<circle cx="16.9" cy="266.26" r="1.65" fill="#000"/>
<text x="27.30" y="269.06" font-size="9.8" fill="#161616" textLength="66.00" lengthAdjust="spacingAndGlyphs" stroke="#161616" stroke-width="0.22">Citric acid cycle</text>
<circle cx="356.7" cy="189.00" r="1.65" fill="#000"/>
<text x="367.50" y="191.80" font-size="9.8" fill="#161616" textLength="114.20" lengthAdjust="spacingAndGlyphs" stroke="#161616" stroke-width="0.22">Triacylglycerol biosynthesis</text>
<circle cx="356.7" cy="198.62" r="1.65" fill="#000"/>
<text x="367.50" y="201.42" font-size="9.8" fill="#161616" textLength="103.10" lengthAdjust="spacingAndGlyphs" stroke="#161616" stroke-width="0.22">Malate-aspartate shuttle</text>
<circle cx="356.7" cy="208.24" r="1.65" fill="#000"/>
<text x="367.50" y="211.04" font-size="9.8" fill="#161616" textLength="100.40" lengthAdjust="spacingAndGlyphs" stroke="#161616" stroke-width="0.22">Cardiolipin biosynthesis</text>
<circle cx="356.7" cy="217.86" r="1.65" fill="#000"/>
<text x="367.50" y="220.66" font-size="9.8" fill="#161616" textLength="114.20" lengthAdjust="spacingAndGlyphs" stroke="#161616" stroke-width="0.22">Glycerol phosphate shuttle</text>
<circle cx="356.7" cy="227.48" r="1.65" fill="#000"/>
<text x="367.50" y="230.28" font-size="9.8" fill="#161616" textLength="72.40" lengthAdjust="spacingAndGlyphs" stroke="#161616" stroke-width="0.22">Gluconeogenesis</text>
<circle cx="356.7" cy="237.10" r="1.65" fill="#000"/>
<text x="367.50" y="239.90" font-size="9.8" fill="#161616" textLength="41.10" lengthAdjust="spacingAndGlyphs" stroke="#161616" stroke-width="0.22">Glycolysis</text>
<circle cx="356.7" cy="246.72" r="1.65" fill="#000"/>
<text x="367.50" y="249.52" font-size="9.8" fill="#161616" textLength="102.90" lengthAdjust="spacingAndGlyphs" stroke="#161616" stroke-width="0.22">Glycerolipid metabolism</text>
<circle cx="356.7" cy="256.34" r="1.65" fill="#000"/>
<text x="367.50" y="259.14" font-size="9.8" fill="#161616" textLength="78.80" lengthAdjust="spacingAndGlyphs" stroke="#161616" stroke-width="0.22">Mitochondrial ETC</text>
<circle cx="356.7" cy="265.96" r="1.65" fill="#000"/>
<text x="367.50" y="268.76" font-size="9.8" fill="#161616" textLength="106.50" lengthAdjust="spacingAndGlyphs" stroke="#161616" stroke-width="0.22">Ketone body metabolism</text>
<circle cx="200" cy="249.60" r="1.65" fill="#000"/>
<text x="211.00" y="252.40" font-size="9.8" fill="#161616" textLength="79.50" lengthAdjust="spacingAndGlyphs" stroke="#161616" stroke-width="0.22">Purine metabolism</text>
<circle cx="200" cy="259.22" r="1.65" fill="#000"/>
<text x="211.00" y="262.02" font-size="9.8" fill="#161616" textLength="62.43" lengthAdjust="spacingAndGlyphs" stroke="#161616" stroke-width="0.22">Warburg effect</text>
<circle cx="200" cy="268.84" r="1.65" fill="#000"/>
<text x="211.00" y="271.64" font-size="9.8" fill="#161616" textLength="80.77" lengthAdjust="spacingAndGlyphs" stroke="#161616" stroke-width="0.22">Lysine degradation</text>
<circle cx="200" cy="278.46" r="1.65" fill="#000"/>
<text x="211.00" y="281.26" font-size="9.8" fill="#161616" textLength="91.50" lengthAdjust="spacingAndGlyphs" stroke="#161616" stroke-width="0.22">Glucose-alanine cycle</text>
<circle cx="200" cy="288.08" r="1.65" fill="#000"/>
<text x="211.00" y="290.88" font-size="9.8" fill="#161616" textLength="96.80" lengthAdjust="spacingAndGlyphs" stroke="#161616" stroke-width="0.22">Glutamate metabolism</text>
<circle cx="200" cy="297.70" r="1.65" fill="#000"/>
<text x="211.00" y="300.50" font-size="9.8" fill="#161616" textLength="83.78" lengthAdjust="spacingAndGlyphs" stroke="#161616" stroke-width="0.22">Alanine metabolism</text>
<line x1="122.4" y1="334.6" x2="122.4" y2="503.3" stroke="#111" stroke-width="1.3"/>
<line x1="121.80000000000001" y1="502.7" x2="262.7" y2="502.7" stroke="#111" stroke-width="1.3"/>
<line x1="131.00" y1="502.7" x2="131.00" y2="505.8" stroke="#111" stroke-width="0.9"/>
<line x1="139.50" y1="502.7" x2="139.50" y2="505.8" stroke="#111" stroke-width="0.9"/>
<line x1="148.00" y1="502.7" x2="148.00" y2="505.8" stroke="#111" stroke-width="0.9"/>
<line x1="156.50" y1="502.7" x2="156.50" y2="505.8" stroke="#111" stroke-width="0.9"/>
<line x1="165.00" y1="502.7" x2="165.00" y2="505.8" stroke="#111" stroke-width="0.9"/>
<line x1="173.50" y1="502.7" x2="173.50" y2="505.8" stroke="#111" stroke-width="0.9"/>
<line x1="182.00" y1="502.7" x2="182.00" y2="505.8" stroke="#111" stroke-width="0.9"/>
<line x1="190.50" y1="502.7" x2="190.50" y2="505.8" stroke="#111" stroke-width="0.9"/>
<line x1="199.00" y1="502.7" x2="199.00" y2="505.8" stroke="#111" stroke-width="0.9"/>
<line x1="207.50" y1="502.7" x2="207.50" y2="505.8" stroke="#111" stroke-width="0.9"/>
<line x1="216.00" y1="502.7" x2="216.00" y2="505.8" stroke="#111" stroke-width="0.9"/>
<line x1="224.50" y1="502.7" x2="224.50" y2="505.8" stroke="#111" stroke-width="0.9"/>
<line x1="233.00" y1="502.7" x2="233.00" y2="505.8" stroke="#111" stroke-width="0.9"/>
<line x1="241.50" y1="502.7" x2="241.50" y2="505.8" stroke="#111" stroke-width="0.9"/>
<line x1="250.00" y1="502.7" x2="250.00" y2="505.8" stroke="#111" stroke-width="0.9"/>
<line x1="258.50" y1="502.7" x2="258.50" y2="505.8" stroke="#111" stroke-width="0.9"/>
<line x1="119.4" y1="339.20" x2="122.4" y2="339.20" stroke="#111" stroke-width="1"/>
<rect x="131.1" y="335.80" width="59.40" height="6.9" fill="#125087"/>
<rect x="190.5" y="335.80" width="59.30" height="6.9" fill="#c8102e"/>
<text x="51.00" y="341.50" font-size="8.6" fill="#222" textLength="65.70" lengthAdjust="spacingAndGlyphs" stroke="#222" stroke-width="0.15">Purine metabolism</text>
<line x1="119.4" y1="350.40" x2="122.4" y2="350.40" stroke="#111" stroke-width="1"/>
<rect x="184.6" y="347.00" width="5.90" height="6.9" fill="#125087"/>
<rect x="190.5" y="347.00" width="32.40" height="6.9" fill="#c8102e"/>
<text x="28.40" y="352.70" font-size="8.6" fill="#222" textLength="88.30" lengthAdjust="spacingAndGlyphs" stroke="#222" stroke-width="0.15">Amino sugar metabolism</text>
<line x1="119.4" y1="361.60" x2="122.4" y2="361.60" stroke="#111" stroke-width="1"/>
<rect x="169.8" y="358.20" width="20.70" height="6.9" fill="#125087"/>
<rect x="190.5" y="358.20" width="27.00" height="6.9" fill="#c8102e"/>
<text x="63.70" y="363.90" font-size="8.6" fill="#222" textLength="53.00" lengthAdjust="spacingAndGlyphs" stroke="#222" stroke-width="0.15">Warburg effect</text>
<line x1="119.4" y1="372.80" x2="122.4" y2="372.80" stroke="#111" stroke-width="1"/>
<rect x="169.8" y="369.40" width="20.70" height="6.9" fill="#125087"/>
<rect x="190.5" y="369.40" width="26.50" height="6.9" fill="#c8102e"/>
<text x="36.00" y="375.10" font-size="8.6" fill="#222" textLength="80.70" lengthAdjust="spacingAndGlyphs" stroke="#222" stroke-width="0.15">Pyrimidine metabolism</text>
<line x1="119.4" y1="384.00" x2="122.4" y2="384.00" stroke="#111" stroke-width="1"/>
<rect x="172" y="380.60" width="18.50" height="6.9" fill="#125087"/>
<rect x="190.5" y="380.60" width="26.50" height="6.9" fill="#c8102e"/>
<text x="80.50" y="386.30" font-size="8.6" fill="#222" textLength="36.20" lengthAdjust="spacingAndGlyphs" stroke="#222" stroke-width="0.15">Urea cycle</text>
<line x1="119.4" y1="395.20" x2="122.4" y2="395.20" stroke="#111" stroke-width="1"/>
<rect x="150.4" y="391.80" width="40.10" height="6.9" fill="#125087"/>
<rect x="190.5" y="391.80" width="22.70" height="6.9" fill="#c8102e"/>
<text x="38.50" y="397.50" font-size="8.6" fill="#222" textLength="78.20" lengthAdjust="spacingAndGlyphs" stroke="#222" stroke-width="0.15">Aspartate metabolism</text>
<line x1="119.4" y1="406.40" x2="122.4" y2="406.40" stroke="#111" stroke-width="1"/>
<rect x="182.6" y="403.00" width="7.90" height="6.9" fill="#125087"/>
<rect x="190.5" y="403.00" width="21.30" height="6.9" fill="#c8102e"/>
<text x="29.60" y="408.70" font-size="8.6" fill="#222" textLength="87.10" lengthAdjust="spacingAndGlyphs" stroke="#222" stroke-width="0.15">Transfer of acetyl groups</text>
<line x1="119.4" y1="417.60" x2="122.4" y2="417.60" stroke="#111" stroke-width="1"/>
<rect x="169.8" y="414.20" width="20.70" height="6.9" fill="#125087"/>
<rect x="190.5" y="414.20" width="20.40" height="6.9" fill="#c8102e"/>
<text x="22.80" y="419.90" font-size="8.6" fill="#222" textLength="93.90" lengthAdjust="spacingAndGlyphs" stroke="#222" stroke-width="0.15">Glycine/serine metabolism</text>
<line x1="119.4" y1="428.80" x2="122.4" y2="428.80" stroke="#111" stroke-width="1"/>
<rect x="178.9" y="425.40" width="11.60" height="6.9" fill="#125087"/>
<rect x="190.5" y="425.40" width="19.60" height="6.9" fill="#c8102e"/>
<text x="40.90" y="431.10" font-size="8.6" fill="#222" textLength="75.80" lengthAdjust="spacingAndGlyphs" stroke="#222" stroke-width="0.15">Glucose-alanine cycle</text>
<line x1="119.4" y1="440.00" x2="122.4" y2="440.00" stroke="#111" stroke-width="1"/>
<rect x="184.6" y="436.60" width="5.90" height="6.9" fill="#125087"/>
<rect x="190.5" y="436.60" width="17.30" height="6.9" fill="#c8102e"/>
<text x="50.00" y="442.30" font-size="8.6" fill="#222" textLength="66.70" lengthAdjust="spacingAndGlyphs" stroke="#222" stroke-width="0.15">Lysine degradation</text>
<line x1="119.4" y1="451.20" x2="122.4" y2="451.20" stroke="#111" stroke-width="1"/>
<rect x="178.3" y="447.80" width="12.20" height="6.9" fill="#125087"/>
<rect x="190.5" y="447.80" width="17.00" height="6.9" fill="#c8102e"/>
<text x="42.80" y="453.50" font-size="8.6" fill="#222" textLength="73.90" lengthAdjust="spacingAndGlyphs" stroke="#222" stroke-width="0.15">Pyruvate metabolism</text>
<line x1="119.4" y1="462.40" x2="122.4" y2="462.40" stroke="#111" stroke-width="1"/>
<rect x="172.9" y="459.00" width="17.60" height="6.9" fill="#125087"/>
<rect x="190.5" y="459.00" width="17.00" height="6.9" fill="#c8102e"/>
<text x="36.10" y="464.70" font-size="8.6" fill="#222" textLength="80.60" lengthAdjust="spacingAndGlyphs" stroke="#222" stroke-width="0.15">Glutamate metabolism</text>
<line x1="119.4" y1="473.60" x2="122.4" y2="473.60" stroke="#111" stroke-width="1"/>
<rect x="179.8" y="470.20" width="10.70" height="6.9" fill="#125087"/>
<rect x="190.5" y="470.20" width="16.10" height="6.9" fill="#c8102e"/>
<text x="5.30" y="475.90" font-size="8.6" fill="#222" textLength="111.40" lengthAdjust="spacingAndGlyphs" stroke="#222" stroke-width="0.15">Fructose/mannose degradation</text>
<line x1="119.4" y1="484.80" x2="122.4" y2="484.80" stroke="#111" stroke-width="1"/>
<rect x="173.2" y="481.40" width="17.30" height="6.9" fill="#125087"/>
<rect x="190.5" y="481.40" width="16.10" height="6.9" fill="#c8102e"/>
<text x="62.00" y="487.10" font-size="8.6" fill="#222" textLength="54.70" lengthAdjust="spacingAndGlyphs" stroke="#222" stroke-width="0.15">Citric acid cycle</text>
<line x1="119.4" y1="496.00" x2="122.4" y2="496.00" stroke="#111" stroke-width="1"/>
<rect x="180.7" y="492.60" width="9.80" height="6.9" fill="#125087"/>
<rect x="190.5" y="492.60" width="16.10" height="6.9" fill="#c8102e"/>
<text x="46.90" y="498.30" font-size="8.6" fill="#222" textLength="69.80" lengthAdjust="spacingAndGlyphs" stroke="#222" stroke-width="0.15">Alanine metabolism</text>
<line x1="190.5" y1="332.4" x2="190.5" y2="502.7" stroke="#000" stroke-width="1"/>
<text x="155.60" y="332.00" font-size="10.8" fill="#222" textLength="13.80" lengthAdjust="spacingAndGlyphs" stroke="#222" stroke-width="0.15">IBR</text>
<text x="208.50" y="332.00" font-size="10.8" fill="#222" textLength="24.50" lengthAdjust="spacingAndGlyphs" stroke="#222" stroke-width="0.15">CD40</text>
<g transform="translate(167.00,519.50) scale(0.8091,1)"><text x="0" y="0" fill="#222" stroke="#222" stroke-width="0.2" xml:space="preserve"><tspan font-size="9" dy="0">–log</tspan><tspan font-size="7" dy="1.5">10</tspan><tspan font-size="9" dy="-1.5"> (P value)</tspan></text></g>
<line x1="372.5" y1="334.6" x2="372.5" y2="503.3" stroke="#111" stroke-width="1.3"/>
<line x1="371.9" y1="502.7" x2="513.5" y2="502.7" stroke="#111" stroke-width="1.3"/>
<line x1="380.90" y1="502.7" x2="380.90" y2="505.8" stroke="#111" stroke-width="0.9"/>
<line x1="389.40" y1="502.7" x2="389.40" y2="505.8" stroke="#111" stroke-width="0.9"/>
<line x1="397.90" y1="502.7" x2="397.90" y2="505.8" stroke="#111" stroke-width="0.9"/>
<line x1="406.40" y1="502.7" x2="406.40" y2="505.8" stroke="#111" stroke-width="0.9"/>
<line x1="414.90" y1="502.7" x2="414.90" y2="505.8" stroke="#111" stroke-width="0.9"/>
<line x1="423.40" y1="502.7" x2="423.40" y2="505.8" stroke="#111" stroke-width="0.9"/>
<line x1="431.90" y1="502.7" x2="431.90" y2="505.8" stroke="#111" stroke-width="0.9"/>
<line x1="440.40" y1="502.7" x2="440.40" y2="505.8" stroke="#111" stroke-width="0.9"/>
<line x1="448.90" y1="502.7" x2="448.90" y2="505.8" stroke="#111" stroke-width="0.9"/>
<line x1="457.40" y1="502.7" x2="457.40" y2="505.8" stroke="#111" stroke-width="0.9"/>
<line x1="465.90" y1="502.7" x2="465.90" y2="505.8" stroke="#111" stroke-width="0.9"/>
<line x1="474.40" y1="502.7" x2="474.40" y2="505.8" stroke="#111" stroke-width="0.9"/>
<line x1="482.90" y1="502.7" x2="482.90" y2="505.8" stroke="#111" stroke-width="0.9"/>
<line x1="491.40" y1="502.7" x2="491.40" y2="505.8" stroke="#111" stroke-width="0.9"/>
<line x1="499.90" y1="502.7" x2="499.90" y2="505.8" stroke="#111" stroke-width="0.9"/>
<line x1="508.40" y1="502.7" x2="508.40" y2="505.8" stroke="#111" stroke-width="0.9"/>
<line x1="369.5" y1="339.20" x2="372.5" y2="339.20" stroke="#111" stroke-width="1"/>
<rect x="380.2" y="335.80" width="60.20" height="6.9" fill="#125087"/>
<rect x="440.4" y="335.80" width="65.60" height="6.9" fill="#3ab24c"/>
<text x="300.70" y="341.50" font-size="8.6" fill="#222" textLength="66.10" lengthAdjust="spacingAndGlyphs" stroke="#222" stroke-width="0.15">Purine metabolism</text>
<line x1="369.5" y1="350.40" x2="372.5" y2="350.40" stroke="#111" stroke-width="1"/>
<rect x="435" y="347.00" width="5.40" height="6.9" fill="#125087"/>
<rect x="440.4" y="347.00" width="35.80" height="6.9" fill="#3ab24c"/>
<text x="271.10" y="352.70" font-size="8.6" fill="#222" textLength="95.70" lengthAdjust="spacingAndGlyphs" stroke="#222" stroke-width="0.15">Triacylglycerol biosynthesis</text>
<line x1="369.5" y1="361.60" x2="372.5" y2="361.60" stroke="#111" stroke-width="1"/>
<rect x="427.3" y="358.20" width="13.10" height="6.9" fill="#125087"/>
<rect x="440.4" y="358.20" width="33.60" height="6.9" fill="#3ab24c"/>
<text x="280.00" y="363.90" font-size="8.6" fill="#222" textLength="86.80" lengthAdjust="spacingAndGlyphs" stroke="#222" stroke-width="0.15">Malate-aspartate shuttle</text>
<line x1="369.5" y1="372.80" x2="372.5" y2="372.80" stroke="#111" stroke-width="1"/>
<rect x="418.8" y="369.40" width="21.60" height="6.9" fill="#125087"/>
<rect x="440.4" y="369.40" width="33.10" height="6.9" fill="#3ab24c"/>
<text x="313.20" y="375.10" font-size="8.6" fill="#222" textLength="53.60" lengthAdjust="spacingAndGlyphs" stroke="#222" stroke-width="0.15">Warburg effect</text>
<line x1="369.5" y1="384.00" x2="372.5" y2="384.00" stroke="#111" stroke-width="1"/>
<rect x="428.3" y="380.60" width="12.10" height="6.9" fill="#125087"/>
<rect x="440.4" y="380.60" width="32.60" height="6.9" fill="#3ab24c"/>
<text x="282.50" y="386.30" font-size="8.6" fill="#222" textLength="84.30" lengthAdjust="spacingAndGlyphs" stroke="#222" stroke-width="0.15">Cardiolipin biosynthesis</text>
<line x1="369.5" y1="395.20" x2="372.5" y2="395.20" stroke="#111" stroke-width="1"/>
<rect x="418.3" y="391.80" width="22.10" height="6.9" fill="#125087"/>
<rect x="440.4" y="391.80" width="32.60" height="6.9" fill="#3ab24c"/>
<text x="271.10" y="397.50" font-size="8.6" fill="#222" textLength="95.70" lengthAdjust="spacingAndGlyphs" stroke="#222" stroke-width="0.15">Glycerol phosphate shuttle</text>
<line x1="369.5" y1="406.40" x2="372.5" y2="406.40" stroke="#111" stroke-width="1"/>
<rect x="424" y="403.00" width="16.40" height="6.9" fill="#125087"/>
<rect x="440.4" y="403.00" width="30.00" height="6.9" fill="#3ab24c"/>
<text x="296.30" y="408.70" font-size="8.6" fill="#222" textLength="70.50" lengthAdjust="spacingAndGlyphs" stroke="#222" stroke-width="0.15">Alanine metabolism</text>
<line x1="369.5" y1="417.60" x2="372.5" y2="417.60" stroke="#111" stroke-width="1"/>
<rect x="422.9" y="414.20" width="17.50" height="6.9" fill="#125087"/>
<rect x="440.4" y="414.20" width="30.00" height="6.9" fill="#3ab24c"/>
<text x="285.70" y="419.90" font-size="8.6" fill="#222" textLength="81.10" lengthAdjust="spacingAndGlyphs" stroke="#222" stroke-width="0.15">Glutamate metabolism</text>
<line x1="369.5" y1="428.80" x2="372.5" y2="428.80" stroke="#111" stroke-width="1"/>
<rect x="424.4" y="425.40" width="16.00" height="6.9" fill="#125087"/>
<rect x="440.4" y="425.40" width="30.00" height="6.9" fill="#3ab24c"/>
<text x="305.80" y="431.10" font-size="8.6" fill="#222" textLength="61.00" lengthAdjust="spacingAndGlyphs" stroke="#222" stroke-width="0.15">Gluconeogenesis</text>
<line x1="369.5" y1="440.00" x2="372.5" y2="440.00" stroke="#111" stroke-width="1"/>
<rect x="428.8" y="436.60" width="11.60" height="6.9" fill="#125087"/>
<rect x="440.4" y="436.60" width="30.00" height="6.9" fill="#3ab24c"/>
<text x="290.10" y="442.30" font-size="8.6" fill="#222" textLength="76.70" lengthAdjust="spacingAndGlyphs" stroke="#222" stroke-width="0.15">Glucose-alanine cycle</text>
<line x1="369.5" y1="451.20" x2="372.5" y2="451.20" stroke="#111" stroke-width="1"/>
<rect x="427.3" y="447.80" width="13.10" height="6.9" fill="#125087"/>
<rect x="440.4" y="447.80" width="27.50" height="6.9" fill="#3ab24c"/>
<text x="331.80" y="453.50" font-size="8.6" fill="#222" textLength="35.00" lengthAdjust="spacingAndGlyphs" stroke="#222" stroke-width="0.15">Glycolysis</text>
<line x1="369.5" y1="462.40" x2="372.5" y2="462.40" stroke="#111" stroke-width="1"/>
<rect x="427.3" y="459.00" width="13.10" height="6.9" fill="#125087"/>
<rect x="440.4" y="459.00" width="27.50" height="6.9" fill="#3ab24c"/>
<text x="280.00" y="464.70" font-size="8.6" fill="#222" textLength="86.80" lengthAdjust="spacingAndGlyphs" stroke="#222" stroke-width="0.15">Glycerolipid metabolism</text>
<line x1="369.5" y1="473.60" x2="372.5" y2="473.60" stroke="#111" stroke-width="1"/>
<rect x="434.2" y="470.20" width="6.20" height="6.9" fill="#125087"/>
<rect x="440.4" y="470.20" width="24.60" height="6.9" fill="#3ab24c"/>
<text x="299.70" y="475.90" font-size="8.6" fill="#222" textLength="67.10" lengthAdjust="spacingAndGlyphs" stroke="#222" stroke-width="0.15">Lysine degradation</text>
<line x1="369.5" y1="484.80" x2="372.5" y2="484.80" stroke="#111" stroke-width="1"/>
<rect x="415.6" y="481.40" width="24.80" height="6.9" fill="#125087"/>
<rect x="440.4" y="481.40" width="24.30" height="6.9" fill="#3ab24c"/>
<text x="300.50" y="487.10" font-size="8.6" fill="#222" textLength="66.30" lengthAdjust="spacingAndGlyphs" stroke="#222" stroke-width="0.15">Mitochondrial ETC</text>
<line x1="369.5" y1="496.00" x2="372.5" y2="496.00" stroke="#111" stroke-width="1"/>
<rect x="435.8" y="492.60" width="4.60" height="6.9" fill="#125087"/>
<rect x="440.4" y="492.60" width="19.50" height="6.9" fill="#3ab24c"/>
<text x="277.20" y="498.30" font-size="8.6" fill="#222" textLength="89.60" lengthAdjust="spacingAndGlyphs" stroke="#222" stroke-width="0.15">Ketone body metabolism</text>
<line x1="440.4" y1="332.4" x2="440.4" y2="502.7" stroke="#000" stroke-width="1"/>
<text x="405.40" y="332.00" font-size="10.8" fill="#222" textLength="13.80" lengthAdjust="spacingAndGlyphs" stroke="#222" stroke-width="0.15">IBR</text>
<text x="461.90" y="332.00" font-size="10.8" fill="#222" textLength="18.50" lengthAdjust="spacingAndGlyphs" stroke="#222" stroke-width="0.15">BCR</text>
<g transform="translate(417.00,519.50) scale(0.8154,1)"><text x="0" y="0" fill="#222" stroke="#222" stroke-width="0.2" xml:space="preserve"><tspan font-size="9" dy="0">–log</tspan><tspan font-size="7" dy="1.5">10</tspan><tspan font-size="9" dy="-1.5"> (P value)</tspan></text></g>
<rect x="0.5" y="0.5" width="519" height="528" fill="none" stroke="#000" stroke-width="1"/>
</svg></body></html>
